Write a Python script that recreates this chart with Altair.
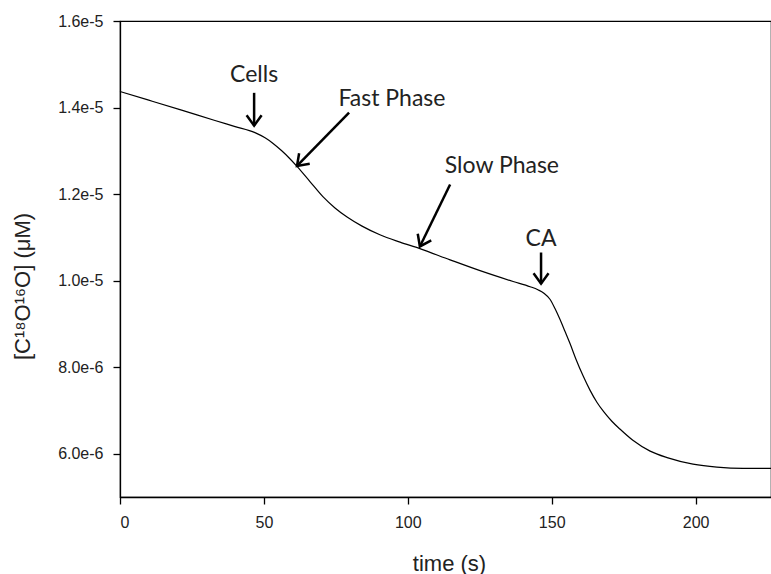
import altair as alt
import pandas as pd

# Curve
time_s = [0, 10, 21.4, 33.0, 40.0, 46.9, 50.4, 53.2, 56.2, 58.7, 61.5, 66.0, 70.5,
          74.7, 78.9, 84.1, 90.3, 97.3, 104.2, 114.7, 125.1, 136.6, 142.5, 145.2,
          147.3, 149.4, 151.1, 152.9, 154.6, 156.4, 158.4, 160.9, 163.3, 165.7,
          168.2, 170.9, 173.7, 178.2, 184.2, 190.1, 199.1, 207.4, 216.5, 226.2]
conc = [1.437e-5, 1.417e-5, 1.394e-5, 1.370e-5, 1.356e-5, 1.342e-5, 1.330e-5,
        1.317e-5, 1.300e-5, 1.284e-5, 1.264e-5, 1.229e-5, 1.194e-5,
        1.168e-5, 1.147e-5, 1.126e-5, 1.106e-5, 1.089e-5, 1.074e-5, 1.048e-5,
        1.023e-5, 0.998e-5, 0.986e-5, 0.979e-5,
        0.971e-5, 0.957e-5, 0.936e-5, 0.910e-5, 0.883e-5, 0.854e-5, 0.819e-5,
        0.780e-5, 0.747e-5, 0.719e-5,
        0.696e-5, 0.675e-5, 0.657e-5, 0.631e-5, 0.606e-5, 0.591e-5, 0.576e-5,
        0.569e-5, 0.566e-5, 0.566e-5]

# Annotations
ann_text = ["Cells", "Fast Phase", "Slow Phase", "CA"]
ann_tx = [46.6, 94.5, 132.7, 146.3]
ann_ty = [1.475e-5, 1.420e-5, 1.266e-5, 1.097e-5]
arr_x1 = [46.6, 79.6, 114.7, 146.3]
arr_y1 = [1.434e-5, 1.388e-5, 1.222e-5, 1.065e-5]
arr_x2 = [46.6, 61.5, 104.2, 146.3]
arr_y2 = [1.358e-5, 1.265e-5, 1.079e-5, 0.993e-5]
arr_angle = [0, 45, 26, 0]

x_ticks = [0, 50, 100, 150, 200]
y_ticks = [6e-6, 8e-6, 1.0e-5, 1.2e-5, 1.4e-5, 1.6e-5]

curve = pd.DataFrame({"t": time_s, "v": conc})
ann = pd.DataFrame({"label": ann_text, "tx": ann_tx, "ty": ann_ty,
                    "x1": arr_x1, "y1": arr_y1, "x2": arr_x2, "y2": arr_y2,
                    "angle": arr_angle})

xscale = alt.Scale(domain=[0, 226.2], nice=False, zero=False)
yscale = alt.Scale(domain=[5e-6, 1.6e-5], nice=False, zero=False)

line = alt.Chart(curve).mark_line(color="black", strokeWidth=1.2, interpolate="monotone").encode(
    x=alt.X("t:Q", scale=xscale,
            axis=alt.Axis(values=x_ticks, title="time (s)", grid=False,
                          titleX=329, titleY=66, titleBaseline="middle", titleAlign="center")),
    y=alt.Y("v:Q", scale=yscale,
            axis=alt.Axis(values=y_ticks, format=".1e", title="[C¹⁸O¹⁶O] (μM)", grid=False,
                          titleX=-98, titleY=265, titleAngle=270,
                          titleBaseline="middle", titleAlign="center")),
)

arrows = alt.Chart(ann).mark_rule(color="black", strokeWidth=2.5).encode(
    x="x1:Q", y="y1:Q", x2="x2:Q", y2="y2:Q"
)

heads = alt.Chart(ann).mark_point(
    shape="M -1 -1.4 L 0 0 L 1 -1.4", filled=False, color="black",
    strokeWidth=2.5, size=225, opacity=1
).encode(
    x="x2:Q", y="y2:Q", angle=alt.Angle("angle:Q", scale=None)
)

labels = alt.Chart(ann).mark_text(
    font="Lato", fontSize=23, color="#222222", align="center", baseline="middle"
).encode(x="tx:Q", y="ty:Q", text="label:N")

chart = alt.layer(line, arrows, heads, labels).properties(
    width=651, height=476,
    autosize=alt.AutoSizeParams(type="none"),
    padding={"left": 120, "top": 21, "right": 0, "bottom": 77},
).configure_view(
    stroke="black", strokeWidth=1.2
).configure_axis(
    domainColor="black", domainWidth=1.3, tickColor="black", tickWidth=1.3,
    tickSize=7, labelFont="Liberation Sans", labelFontSize=16, labelColor="#222222",
    titleFont="Liberation Sans", titleFontSize=22, titleFontWeight="normal",
    titleColor="#222222"
).configure_axisX(labelPadding=10).configure_axisY(labelPadding=10)

chart.save("out.html", embed_options={"renderer": "svg", "actions": False})
